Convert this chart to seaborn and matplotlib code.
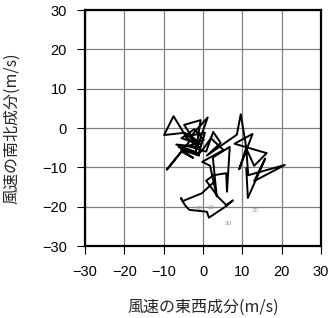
import matplotlib
matplotlib.use("Agg")
import matplotlib.pyplot as plt
import seaborn as sns
import pandas as pd

# wind components (m/s): east-west (u), north-south (v)
u = [2.6, -0.3, -5.2, -5.6, -4.6, -3.5, 1.0, 1.5, 6.0, 7.6, 5.9, 3.9, 0.8,
     2.7, 5.9, 6.1, 6.8,
     2.5, 3.5, 1.8, -0.2, 5.2, 2.0, 0.3, -1.2, 0.5, -4.5, -1.0, -6.8, -1.5,
     -6.2, -1.0, -5.6, -2.5, -5.5, -9.2, -3.5, -7.5, -9.9, -4.6, -2.0, -4.8,
     -0.6, -1.8, 1.2, -3.0, -0.5, -5.5, -2.2, 0.2, -3.8, 0.8, 2.6, 4.5, 1.0,
     8.6, 9.6, 11.0, 9.2, 12.6, 8.0, 16.2, 13.0, 11.0, 11.5, 20.8, 13.0,
     15.8, 11.4, 11.0]
v = [-13.9, -16.6, -18.6, -17.8, -19.6, -20.8, -21.3, -22.8, -19.8, -18.4,
     -19.6, -17.6, -13.4,
     -12.0, -11.5, -16.2, -4.8, -7.5, -17.4, -9.6, -8.6, -5.6, -2.6, -5.0,
     -6.8, -1.2, -2.2, -4.8, -4.2, -6.3, -4.8, -7.0, -5.5, -7.6, -6.0, -10.6,
     -3.5, 3.0, -1.8, -1.2, -3.5, 0.8, 2.0, -5.8, 2.7, -2.0, -4.2, -2.6,
     -0.3, -3.0, -4.6, -6.0, -1.0, -3.8, -7.0, -1.7, 3.5, -5.0, -10.5, -1.5,
     -4.0, -6.4, -9.6, -5.2, -12.0, -9.4, -13.5, -7.8, -17.8, -10.2]

label_text = ["10", "25", "40", "10", "20", "30"]
label_u = [2.2, -3.7, -0.9, 2.0, 13.2, 6.4]
label_v = [-2.6, -5.2, -20.4, -20.2, -21.0, -24.2]

ticks = [-30, -20, -10, 0, 10, 20, 30]

df = pd.DataFrame({"u": u, "v": v})

sns.set_style("white")
plt.rcParams["font.family"] = ["Liberation Sans", "Noto Sans CJK JP", "DejaVu Sans"]

fig = plt.figure(figsize=(3.31, 3.18), dpi=100)
ax = fig.add_axes([85 / 331, 1 - 246 / 318, 236 / 331, 236 / 318])

ax.set_xlim(-30, 30)
ax.set_ylim(-30, 30)
ax.set_xticks(ticks)
ax.set_yticks(ticks)
ax.grid(True, color="#808080", linewidth=0.9)
ax.set_axisbelow(True)

sns.lineplot(data=df, x="u", y="v", sort=False, estimator=None,
             color="black", linewidth=1.4, ax=ax, zorder=3)

for t, x, y in zip(label_text, label_u, label_v):
    ax.text(x, y, t, fontsize=4.5, color="#999999", ha="center", va="center", zorder=2)

for s in ax.spines.values():
    s.set_visible(True)
    s.set_color("black")
    s.set_linewidth(1.6)

ax.tick_params(axis="both", direction="out", length=6, width=0.8, colors="black",
               labelsize=10.5, bottom=True, left=True)
ax.tick_params(axis="x", pad=8)
ax.tick_params(axis="y", pad=7)
ax.set_xticklabels([("\u2212" if t < 0 else "") + str(abs(t)) for t in ticks])
ax.set_yticklabels([("\u2212" if t < 0 else "") + str(abs(t)) for t in ticks])

ax.set_xlabel("風速の東西成分(m/s)", fontsize=11.5, labelpad=14,
              family=["Noto Sans CJK JP", "DejaVu Sans"])
ax.set_ylabel("風速の南北成分(m/s)", fontsize=11.5, labelpad=16,
              family=["Noto Sans CJK JP", "DejaVu Sans"])

fig.savefig("out.png", dpi=100)
